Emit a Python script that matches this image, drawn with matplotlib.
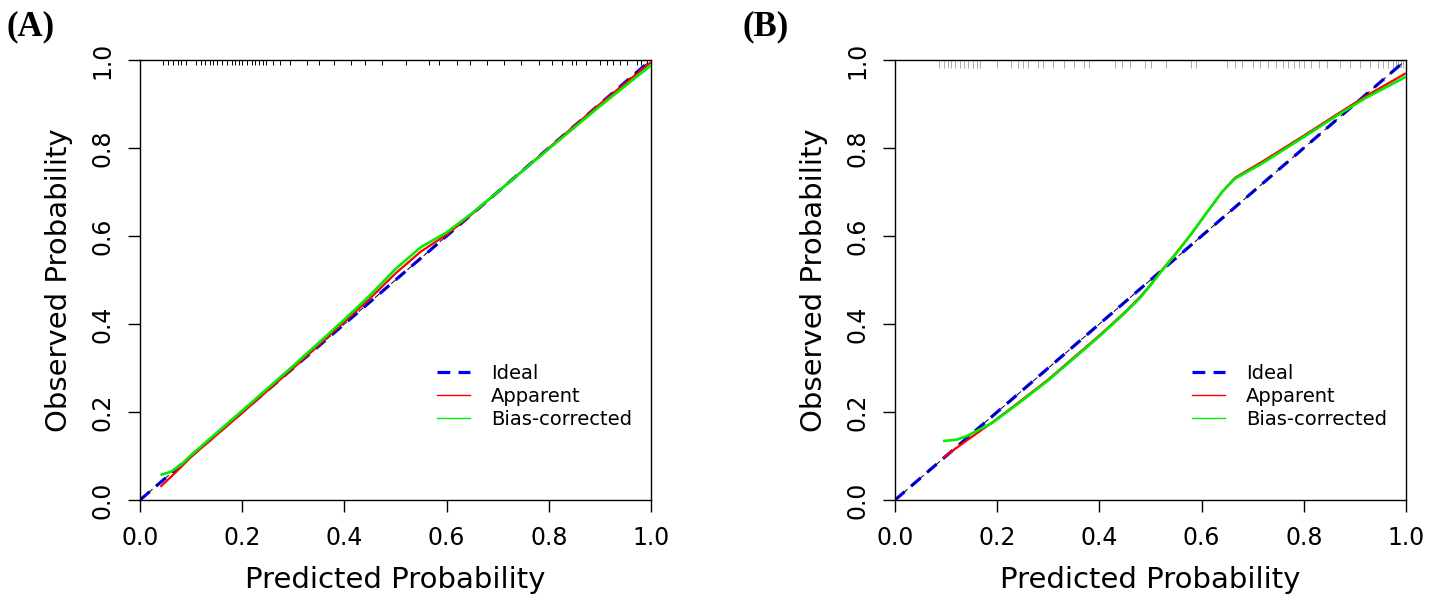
import matplotlib
matplotlib.use("Agg")
import matplotlib.pyplot as plt
from matplotlib.lines import Line2D

# ---------------- data ----------------
ticks = [0.0, 0.2, 0.4, 0.6, 0.8, 1.0]
tick_labels = ["0.0", "0.2", "0.4", "0.6", "0.8", "1.0"]
ideal_x = [0.0, 1.0]
ideal_y = [0.0, 1.0]

# Panel A
a_app_x = [0.04, 0.07, 0.10, 0.20, 0.30, 0.40, 0.45, 0.50, 0.55, 0.60, 0.65, 0.70, 0.80, 0.90, 1.00]
a_app_y = [0.030, 0.063, 0.098, 0.198, 0.300, 0.405, 0.458, 0.515, 0.565, 0.603, 0.650, 0.700, 0.800, 0.900, 0.995]
a_bc_x = [0.04, 0.06, 0.08, 0.10, 0.20, 0.30, 0.40, 0.45, 0.50, 0.55, 0.60, 0.65, 0.70, 0.80, 0.90, 1.00]
a_bc_y = [0.057, 0.064, 0.080, 0.102, 0.203, 0.305, 0.410, 0.465, 0.525, 0.575, 0.608, 0.652, 0.700, 0.798, 0.895, 0.988]
a_rug = [0.045, 0.055, 0.065, 0.075, 0.08, 0.09, 0.11, 0.12, 0.127, 0.137, 0.143, 0.15, 0.16, 0.17,
         0.18, 0.186, 0.193, 0.2, 0.21, 0.22, 0.226, 0.233, 0.24, 0.246, 0.26, 0.273, 0.293, 0.326,
         0.35, 0.38, 0.413, 0.44, 0.473, 0.52, 0.566, 0.586, 0.62, 0.646, 0.68, 0.713, 0.746, 0.78,
         0.806, 0.826, 0.846, 0.853, 0.873, 0.9, 0.913, 0.926, 0.94, 0.953, 0.973, 0.98, 0.993]

# Panel B
b_app_x = [0.094, 0.14, 0.19, 0.24, 0.30, 0.35, 0.40, 0.45, 0.48, 0.50, 0.52, 0.55, 0.58, 0.61, 0.64,
           0.665, 0.72, 0.80, 0.86, 0.92, 1.00]
b_app_y = [0.096, 0.135, 0.176, 0.220, 0.274, 0.324, 0.374, 0.427, 0.462, 0.489, 0.519, 0.561, 0.605,
           0.653, 0.700, 0.732, 0.770, 0.828, 0.873, 0.917, 0.970]
b_bc_x = [0.094, 0.12, 0.14, 0.165, 0.19, 0.24, 0.30, 0.35, 0.40, 0.45, 0.48, 0.50, 0.52, 0.55, 0.58,
          0.61, 0.64, 0.665, 0.72, 0.80, 0.86, 0.92, 1.00]
b_bc_y = [0.134, 0.137, 0.145, 0.160, 0.175, 0.218, 0.272, 0.322, 0.372, 0.425, 0.460, 0.488, 0.518,
          0.560, 0.605, 0.653, 0.700, 0.730, 0.766, 0.825, 0.870, 0.913, 0.962]
b_rug = [0.087, 0.095, 0.103, 0.11, 0.118, 0.127, 0.135, 0.143, 0.152, 0.16, 0.166, 0.2, 0.227, 0.24,
         0.25, 0.26, 0.28, 0.29, 0.31, 0.33, 0.35, 0.37, 0.38, 0.43, 0.445, 0.46, 0.49, 0.5, 0.53,
         0.58, 0.59, 0.65, 0.665, 0.68, 0.70, 0.715, 0.73, 0.745, 0.76, 0.77, 0.78, 0.79, 0.80,
         0.815, 0.83, 0.845, 0.87, 0.89, 0.91, 0.93, 0.945, 0.955, 0.965, 0.975, 0.98, 0.985,
         0.99, 0.995]

legend_labels = ["Ideal", "Apparent", "Bias-corrected"]
panel_labels = ["(A)", "(B)"]

BLUE = "#0000FF"
RED = "#FF0000"
GREEN = "#00EE00"

plt.rcParams["font.family"] = ["DejaVu Sans"]

fig = plt.figure(figsize=(14.3, 6.04), dpi=100)
ax_pos = [[140 / 1430, 104 / 604, 511 / 1430, 440 / 604],
          [895 / 1430, 104 / 604, 511 / 1430, 440 / 604]]

panels = [
    (a_app_x, a_app_y, a_bc_x, a_bc_y, a_rug, "black", 0.012),
    (b_app_x, b_app_y, b_bc_x, b_bc_y, b_rug, "#aaaaaa", 0.018),
]

for i, (apx, apy, bcx, bcy, rug, rugc, rugl) in enumerate(panels):
    ax = fig.add_axes(ax_pos[i])
    ax.set_xlim(0, 1)
    ax.set_ylim(0, 1)
    # rug
    ax.vlines(rug, 1.0 - rugl, 1.0, colors=rugc, linewidth=0.7, zorder=1)
    # ideal
    ax.plot(ideal_x, ideal_y, color=BLUE, lw=2.3, dashes=(4, 2.6), zorder=2)
    ax.plot(ideal_x, ideal_y, color="black", lw=0.7, dashes=(6, 5), zorder=2.5)
    ax.plot(apx, apy, color=RED, lw=1.6, zorder=3, solid_capstyle="butt")
    ax.plot(bcx, bcy, color=GREEN, lw=1.9, zorder=4, solid_capstyle="butt")

    ax.set_xticks(ticks)
    ax.set_xticklabels(tick_labels)
    ax.set_yticks(ticks)
    ax.set_yticklabels(tick_labels)
    ax.tick_params(axis="both", direction="out", length=8.6, width=1.0, labelsize=17, pad=10)
    ax.tick_params(axis="y", labelrotation=90)
    for lab in ax.get_yticklabels():
        lab.set_verticalalignment("center")
    for s in ax.spines.values():
        s.set_linewidth(1.0)
    ax.set_xlabel("Predicted Probability", fontsize=21, labelpad=12)
    ax.set_ylabel("Observed Probability", fontsize=21, labelpad=12)

    handles = [Line2D([], [], color=BLUE, lw=2.3, dashes=(4, 2.6)),
               Line2D([], [], color=RED, lw=1.0),
               Line2D([], [], color=GREEN, lw=1.0)]
    ax.legend(handles, legend_labels, loc="upper left", bbox_to_anchor=(0.581, 0.309),
              frameon=False, fontsize=14, borderpad=0, borderaxespad=0,
              handlelength=1.7, handletextpad=1.1, labelspacing=0.2)

    fig.text((6 if i == 0 else 743) / 1430, 1 - 27 / 604, panel_labels[i],
             family=["Liberation Serif", "DejaVu Serif"], fontweight="bold",
             fontsize=25, ha="left", va="center")

fig.savefig("out.png", dpi=100)
